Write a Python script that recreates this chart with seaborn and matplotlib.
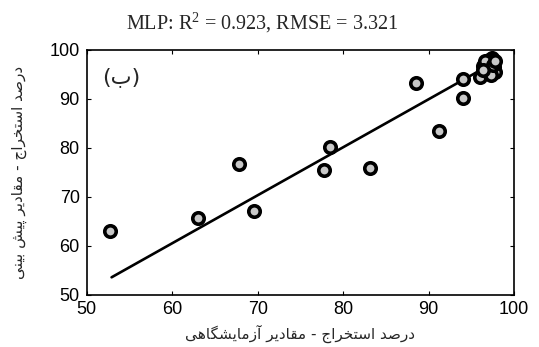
import matplotlib
matplotlib.use("Agg")
import matplotlib.pyplot as plt
import pandas as pd
import seaborn as sns

# experimental vs predicted extraction (%)
measured = [52.7, 63.0, 67.8, 69.6, 77.7, 78.5, 83.1, 88.5, 91.2, 94.0, 94.0,
            96.0, 96.4, 96.8, 97.0, 97.2, 97.4, 97.6, 97.7, 97.3, 97.0,
            96.6, 97.5, 97.8, 96.3]
predicted = [63.1, 65.7, 76.7, 67.2, 75.4, 80.1, 76.0, 93.2, 83.5, 90.2, 94.1,
             94.4, 96.8, 96.5, 95.4, 97.2, 98.3, 96.6, 95.6, 94.9, 98.0,
             97.8, 97.0, 97.8, 96.0]

# fitted line
fit_x = [52.9, 97.5]
fit_y = [53.6, 97.3]

title = r"MLP: R$^\mathrm{2}$ = 0.923, RMSE = 3.321"
xlabel = "درصد استخراج - مقادیر آزمایشگاهی"
ylabel = "درصد استخراج - مقادیر پیش بینی"
panel = "(ب)"

# arabic presentation forms: isolated, final, initial, medial
forms = {
    'ا': ('\uFE8D', '\uFE8E', None, None),
    'آ': ('\uFE81', '\uFE82', None, None),
    'ب': ('\uFE8F', '\uFE90', '\uFE91', '\uFE92'),
    'پ': ('\uFB56', '\uFB57', '\uFB58', '\uFB59'),
    'ت': ('\uFE95', '\uFE96', '\uFE97', '\uFE98'),
    'ج': ('\uFE9D', '\uFE9E', '\uFE9F', '\uFEA0'),
    'خ': ('\uFEA5', '\uFEA6', '\uFEA7', '\uFEA8'),
    'د': ('\uFEA9', '\uFEAA', None, None),
    'ر': ('\uFEAD', '\uFEAE', None, None),
    'ز': ('\uFEAF', '\uFEB0', None, None),
    'س': ('\uFEB1', '\uFEB2', '\uFEB3', '\uFEB4'),
    'ش': ('\uFEB5', '\uFEB6', '\uFEB7', '\uFEB8'),
    'ص': ('\uFEB9', '\uFEBA', '\uFEBB', '\uFEBC'),
    'ق': ('\uFED5', '\uFED6', '\uFED7', '\uFED8'),
    'گ': ('\uFB92', '\uFB93', '\uFB94', '\uFB95'),
    'م': ('\uFEE1', '\uFEE2', '\uFEE3', '\uFEE4'),
    'ن': ('\uFEE5', '\uFEE6', '\uFEE7', '\uFEE8'),
    'ه': ('\uFEE9', '\uFEEA', '\uFEEB', '\uFEEC'),
    'ی': ('\uFBFC', '\uFBFD', '\uFBFE', '\uFBFF'),
}
mirror = {'(': ')', ')': '('}


def shape(s):
    out = []
    for i, c in enumerate(s):
        if c not in forms:
            out.append(mirror.get(c, c))
            continue
        iso, fin, ini, med = forms[c]
        prev = s[i - 1] if i > 0 else ''
        nxt = s[i + 1] if i + 1 < len(s) else ''
        jp = prev in forms and forms[prev][2] is not None
        jn = ini is not None and nxt in forms
        if jp and jn:
            out.append(med)
        elif jp:
            out.append(fin)
        elif jn:
            out.append(ini)
        else:
            out.append(iso)
    return ''.join(out[::-1])


df = pd.DataFrame({'measured': measured, 'predicted': predicted})
line = pd.DataFrame({'x': fit_x, 'y': fit_y})

sns.set_style("ticks")
plt.rcParams['font.family'] = ['Liberation Sans', 'DejaVu Sans']
plt.rcParams['mathtext.fontset'] = 'custom'
plt.rcParams['mathtext.rm'] = 'Liberation Serif'

fig = plt.figure(figsize=(5.39, 3.47), dpi=100)
ax = fig.add_axes([0.161, 0.150, 0.793, 0.706])

sns.lineplot(data=line, x='x', y='y', color='black', linewidth=1.9, ax=ax)
sns.scatterplot(data=df, x='measured', y='predicted', s=68, color='#c8c8c8',
                edgecolor='black', linewidth=2.6, zorder=3, ax=ax)

ax.set_xlim(50, 100)
ax.set_ylim(50, 100)
ax.set_xticks([50, 60, 70, 80, 90, 100])
ax.set_yticks([50, 60, 70, 80, 90, 100])
ax.tick_params(direction='in', length=3, width=0.8, labelsize=13,
               top=True, right=True, colors='black')
ax.tick_params(axis='x', pad=4)
ax.tick_params(axis='y', pad=5)
for sp in ax.spines.values():
    sp.set_visible(True)
    sp.set_linewidth(1.2)
    sp.set_color('black')

ax.set_title(title, fontsize=14.5, family='Liberation Serif', pad=15, x=0.41)
ax.set_xlabel(shape(xlabel), fontsize=11, family='DejaVu Sans', labelpad=5)
ax.set_ylabel(shape(ylabel), fontsize=11, family='DejaVu Sans', labelpad=16)
ax.text(0.08, 0.89, shape(panel), transform=ax.transAxes, fontsize=16,
        family='DejaVu Sans', ha='center', va='center')

fig.savefig("out.png", dpi=100)
